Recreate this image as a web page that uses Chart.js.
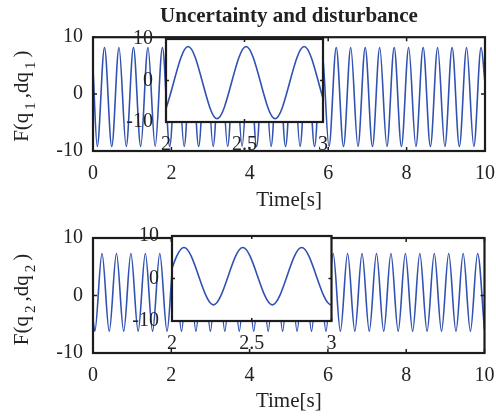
<!DOCTYPE html>
<html>
<head>
<meta charset="utf-8">
<script src="https://cdn.jsdelivr.net/npm/chart.js@4.4.1/dist/chart.umd.min.js"></script>
<style>
  body { margin: 0; background: #fff; }
  #wrap { position: relative; width: 496px; height: 420px; background: #fff; overflow: hidden; }
  canvas { position: absolute; }
</style>
</head>
<body>
<div id="wrap">
  <canvas id="main1" width="506" height="215" style="left:0;top:0"></canvas>
  <canvas id="main2" width="506" height="210" style="left:0;top:210px"></canvas>
  <canvas id="zoom1" width="223" height="150" style="left:116px;top:14px"></canvas>
  <canvas id="zoom2" width="226" height="150" style="left:122px;top:211px"></canvas>
</div>
<script>
// extrema of F(q1,dq1) (time in s)
const time1 = [0, 0.108, 0.293, 0.478, 0.663, 0.847, 1.032, 1.217, 1.402, 1.586, 1.771, 1.956, 2.141, 2.325, 2.510, 2.695, 2.880, 3.064, 3.249, 3.434, 3.619, 3.803, 3.988, 4.173, 4.358, 4.542, 4.727, 4.912, 5.097, 5.281, 5.466, 5.651, 5.836, 6.020, 6.205, 6.390, 6.575, 6.759, 6.944, 7.129, 7.314, 7.498, 7.683, 7.868, 8.053, 8.237, 8.422, 8.607, 8.792, 8.976, 9.161, 9.346, 9.531, 9.715, 9.900, 10];
const force1 = [4.6, -9.2, 8.2, -9.2, 8.2, -9.2, 8.2, -9.2, 8.2, -9.2, 8.2, -9.2, 8.2, -9.2, 8.2, -9.2, 8.2, -9.2, 8.2, -9.2, 8.2, -9.2, 8.2, -9.2, 8.2, -9.2, 8.2, -9.2, 8.2, -9.2, 8.2, -9.2, 8.2, -9.2, 8.2, -9.2, 8.2, -9.2, 8.2, -9.2, 8.2, -9.2, 8.2, -9.2, 8.2, -9.2, 8.2, -9.2, 8.2, -9.2, 8.2, -9.2, 8.2, -9.2, 8.2, 2.0];
// extrema of F(q2,dq2)
const time2 = [0, 0.046, 0.230, 0.415, 0.599, 0.784, 0.968, 1.153, 1.337, 1.522, 1.706, 1.891, 2.075, 2.260, 2.444, 2.629, 2.813, 2.998, 3.182, 3.367, 3.551, 3.736, 3.920, 4.105, 4.289, 4.474, 4.658, 4.843, 5.027, 5.212, 5.396, 5.581, 5.765, 5.950, 6.134, 6.319, 6.503, 6.688, 6.872, 7.057, 7.241, 7.426, 7.610, 7.795, 7.979, 8.164, 8.348, 8.533, 8.717, 8.902, 9.086, 9.271, 9.455, 9.640, 9.824, 10];
const force2 = [-4.3, -6.2, 7.3, -6.2, 7.3, -6.2, 7.3, -6.2, 7.3, -6.2, 7.3, -6.2, 7.3, -6.2, 7.3, -6.2, 7.3, -6.2, 7.3, -6.2, 7.3, -6.2, 7.3, -6.2, 7.3, -6.2, 7.3, -6.2, 7.3, -6.2, 7.3, -6.2, 7.3, -6.2, 7.3, -6.2, 7.3, -6.2, 7.3, -6.2, 7.3, -6.2, 7.3, -6.2, 7.3, -6.2, 7.3, -6.2, 7.3, -6.2, 7.3, -6.2, 7.3, -6.2, 7.3, -6.0];

const mainTicksX = [0, 2, 4, 6, 8, 10];
const zoomTicksX = [2, 2.5, 3];
const ticksY = [-10, 0, 10];

const FONT = "'Liberation Serif', 'Times New Roman', serif";
const BLUE = '#3152b0';
Chart.defaults.color = '#222';
Chart.defaults.font.family = FONT;

function toPoints(t, v) {
    let pts = [];
    for (let i = 0; i < t.length; i++) {
        pts.push({ x: t[i], y: v[i] });
    }
    return pts;
}

// MATLAB style box with inward ticks, white plot area for the insets, rotated y label
const boxPlugin = {
    id: 'box',
    beforeDatasetsDraw(chart, args, opts) {
        if (!opts.fill) return;
        const a = chart.chartArea;
        const ctx = chart.ctx;
        ctx.save();
        ctx.fillStyle = '#fff';
        ctx.fillRect(a.left, a.top, a.right - a.left, a.bottom - a.top);
        ctx.restore();
    },
    afterDraw(chart, args, opts) {
        const a = chart.chartArea;
        const ctx = chart.ctx;
        const len = opts.tickLen || 4;
        ctx.save();
        ctx.strokeStyle = '#1c1c1c';
        ctx.lineWidth = 1.5;
        ctx.beginPath();
        chart.scales.x.ticks.forEach(t => {
            const px = chart.scales.x.getPixelForValue(t.value);
            ctx.moveTo(px, a.bottom); ctx.lineTo(px, a.bottom - len);
            ctx.moveTo(px, a.top); ctx.lineTo(px, a.top + len);
        });
        chart.scales.y.ticks.forEach(t => {
            const py = chart.scales.y.getPixelForValue(t.value);
            ctx.moveTo(a.left, py); ctx.lineTo(a.left + len, py);
            ctx.moveTo(a.right, py); ctx.lineTo(a.right - len, py);
        });
        ctx.stroke();
        ctx.lineWidth = 2.2;
        ctx.strokeRect(a.left, a.top, a.right - a.left, a.bottom - a.top);
        if (opts.ylab) {
            const parts = opts.ylab;
            ctx.translate(opts.labX, (a.top + a.bottom) / 2 + (opts.labDy || 0));
            ctx.rotate(-Math.PI / 2);
            ctx.fillStyle = '#222';
            ctx.textBaseline = 'alphabetic';
            let widths = parts.map(p => {
                ctx.font = (p.sub ? '15px ' : '21px ') + FONT;
                return ctx.measureText(p.text).width + (p.sub ? 7 : 0);
            });
            let total = widths.reduce((s, w) => s + w, 0);
            let x = -total / 2;
            parts.forEach((p, i) => {
                ctx.font = (p.sub ? '15px ' : '21px ') + FONT;
                ctx.fillText(p.text, x + (p.sub ? 3 : 0), p.sub ? 7 : 0);
                x += widths[i];
            });
        }
        ctx.restore();
    }
};

function mainChart(id, t, v, opt) {
    return new Chart(document.getElementById(id), {
        type: 'line',
        data: { datasets: [{ data: toPoints(t, v), borderColor: BLUE, borderWidth: 1.6, pointRadius: 0, cubicInterpolationMode: 'monotone', fill: false }] },
        options: {
            responsive: false,
            animation: false,
            events: [],
            layout: { padding: { top: opt.padTop, right: opt.padRight, left: 0, bottom: 0 } },
            scales: {
                x: {
                    type: 'linear', min: 0, max: 10,
                    afterBuildTicks: s => { s.ticks = mainTicksX.map(x => ({ value: x })); },
                    afterFit: s => { s.height = opt.xHeight; },
                    grid: { display: false, drawTicks: false },
                    border: { display: false },
                    ticks: { font: { size: 20 }, padding: 11, maxRotation: 0, callback: x => x },
                    title: { display: true, text: 'Time[s]', font: { size: 21 }, padding: { top: 0, bottom: opt.titlePad } }
                },
                y: {
                    type: 'linear', min: -10, max: 10,
                    afterBuildTicks: s => { s.ticks = ticksY.map(y => ({ value: y })); },
                    afterFit: s => { s.width = 93; },
                    grid: { display: false, drawTicks: false },
                    border: { display: false },
                    ticks: { font: { size: 20 }, padding: 10, callback: y => y }
                }
            },
            plugins: {
                legend: { display: false },
                tooltip: { enabled: false },
                title: opt.title ? { display: true, fullSize: false, text: opt.title, font: { size: 21, weight: 'bold' }, padding: { top: 4, bottom: 8 } } : { display: false },
                box: { ylab: opt.ylab, labX: 28, labDy: opt.labDy, tickLen: 4 }
            }
        },
        plugins: [boxPlugin]
    });
}

function zoomChart(id, t, v, padRight, xHeight) {
    return new Chart(document.getElementById(id), {
        type: 'line',
        data: { datasets: [{ data: toPoints(t, v), borderColor: BLUE, borderWidth: 1.6, pointRadius: 0, cubicInterpolationMode: 'monotone', fill: false }] },
        options: {
            responsive: false,
            animation: false,
            events: [],
            layout: { padding: { top: 0, right: padRight, left: 0, bottom: 0 } },
            scales: {
                x: {
                    type: 'linear', min: 2, max: 3,
                    afterBuildTicks: s => { s.ticks = zoomTicksX.map(x => ({ value: x })); },
                    afterFit: s => { s.height = xHeight; },
                    grid: { display: false, drawTicks: false },
                    border: { display: false },
                    ticks: { font: { size: 20 }, padding: 11, maxRotation: 0, callback: x => x }
                },
                y: {
                    type: 'linear', min: -10, max: 10,
                    afterBuildTicks: s => { s.ticks = ticksY.map(y => ({ value: y })); },
                    afterFit: s => { s.width = 50; },
                    grid: { display: false, drawTicks: false },
                    border: { display: false },
                    ticks: { font: { size: 20 }, padding: 13, callback: y => y }
                }
            },
            plugins: {
                legend: { display: false },
                tooltip: { enabled: false },
                box: { fill: true, tickLen: 3 }
            }
        },
        plugins: [boxPlugin]
    });
}

mainChart('main1', time1, force1, {
    padTop: 0, padRight: 21, xHeight: 64, titlePad: 2, title: 'Uncertainty and disturbance', labDy: 2,
    ylab: [{ text: 'F(q' }, { text: '1', sub: true }, { text: ',dq' }, { text: '1', sub: true }, { text: ')' }]
});
mainChart('main2', time2, force2, {
    padTop: 28, padRight: 21.5, xHeight: 67, titlePad: 6, title: null, labDy: 4,
    ylab: [{ text: 'F(q' }, { text: '2', sub: true }, { text: ',dq' }, { text: '2', sub: true }, { text: ')' }]
});
zoomChart('zoom1', time1, force1, 16, 42);
zoomChart('zoom2', time2, force2, 16.5, 40);
</script>
</body>
</html>
